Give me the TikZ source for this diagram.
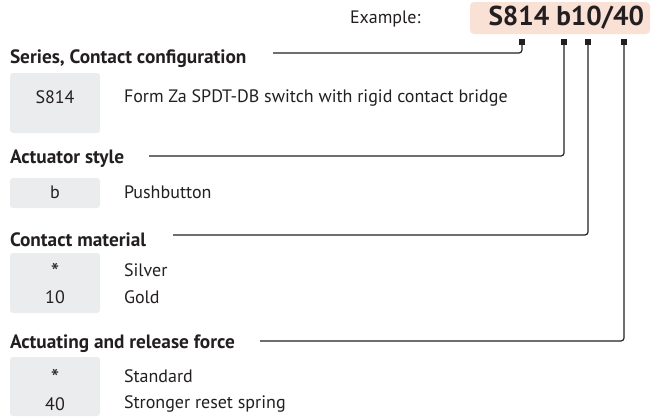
\documentclass[tikz,border=0pt]{standalone}
\usepackage{fontspec}
\setmainfont{PT Sans}
\definecolor{txt}{HTML}{231F20}
\definecolor{peach}{HTML}{F9E1D6}
\definecolor{graybox}{HTML}{EBECEE}
\begin{document}
\begin{tikzpicture}[x=1pt,y=-1pt,
  every node/.style={text=txt, inner sep=0pt, outer sep=0pt},
  body/.style={font=\fontsize{18}{21}\selectfont, anchor=west},
  head/.style={font=\fontsize{19.3}{22}\selectfont\bfseries, anchor=west},
  codebox/.style={fill=graybox, rounded corners=3pt, draw=none},
  code/.style={font=\fontsize{18}{21}\selectfont, anchor=center},
  star/.style={font=\fontsize{24}{26}\selectfont, anchor=center},
  pin/.style={fill=txt, minimum size=6pt, draw=none},
  conn/.style={draw=txt, line width=1.2pt, rounded corners=3pt}
]
\useasboundingbox (0,0) rectangle (660,418);
% example
\fill[peach, rounded corners=4pt] (470,2) rectangle (650,34);
\node[body] (ex) at (350,19) {Example:};
\node[font=\fontsize{27.3}{30}\selectfont\bfseries, anchor=east] (codeall) at (644,18) {S814 b10/40};
% pins
\node[pin] (sq1) at (522,42) {};
\node[pin] (sq2) at (564,42) {};
\node[pin] (sq3) at (588,42) {};
\node[pin] (sq4) at (624,42) {};
% headings
\node[head] (h1) at (10,59) {Series, Contact configuration};
\node[head] (h2) at (10,159) {Actuator style};
\node[head] (h3) at (10,240) {Contact material};
\node[head] (h4) at (10,344) {Actuating and release force};
% line starts
\coordinate (l1) at (273,53);
\coordinate (l2) at (149,156);
\coordinate (l3) at (173,235);
\coordinate (l4) at (260,341);
\draw[conn] (l1) -| (sq1);
\draw[conn] (l2) -| (sq2);
\draw[conn] (l3) -| (sq3);
\draw[conn] (l4) -| (sq4);
% boxes
\fill[codebox] (10,73) rectangle (100,133);
\fill[codebox] (10,178) rectangle (100,208);
\fill[codebox] (10,253) rectangle (100,313);
\fill[codebox] (10,357) rectangle (100,416);
% entries
\node[code] (c1) at (55,97) {S814};
\node[body] (d1) at (124,98) {Form Za SPDT-DB switch with rigid contact bridge};
\node[code] (c2) at (55,192) {b};
\node[body] (d2) at (124,192) {Pushbutton};
\node[star] (c3a) at (55,272) {*};
\node[body] (d3a) at (124,270) {Silver};
\node[code] (c3b) at (55,297) {10};
\node[body] (d3b) at (124,297) {Gold};
\node[star] (c4a) at (55,378) {*};
\node[body] (d4a) at (124,376) {Standard};
\node[code] (c4b) at (55,404) {40};
\node[body] (d4b) at (124,404) {Stronger reset spring};
\end{tikzpicture}
\end{document}
